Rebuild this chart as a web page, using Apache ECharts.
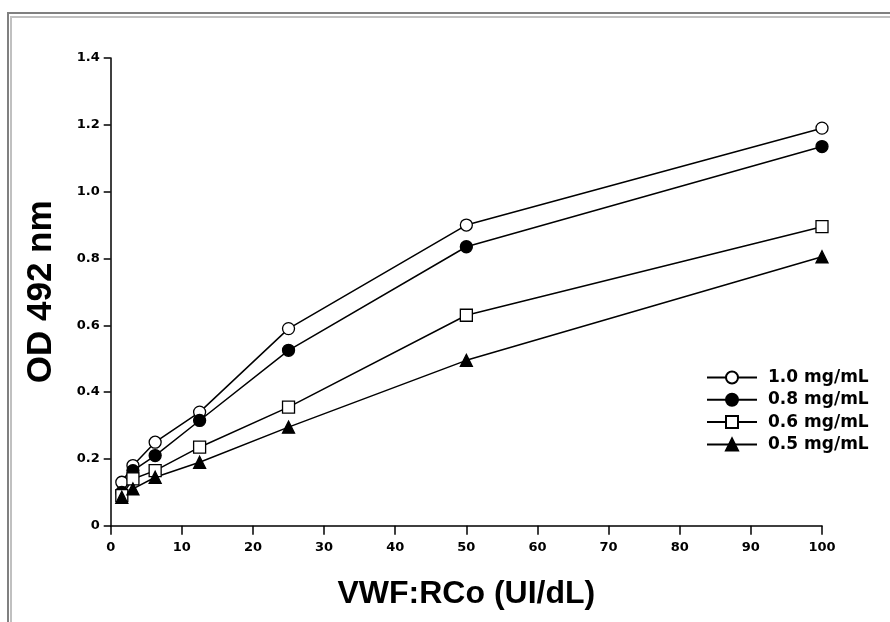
<!DOCTYPE html>
<html>
<head>
<meta charset="utf-8">
<script src="https://cdn.jsdelivr.net/npm/echarts@6/dist/echarts.min.js"></script>
<style>
  html, body { margin: 0; padding: 0; background: #fff; }
  #chart { width: 890px; height: 622px; }
</style>
</head>
<body>
<div id="chart"></div>
<script>
// data
var doses = [1.5625, 3.125, 6.25, 12.5, 25, 50, 100];
var names = ['1.0 mg/mL', '0.8 mg/mL', '0.6 mg/mL', '0.5 mg/mL'];
var od10 = [0.13, 0.18, 0.25, 0.34, 0.59, 0.90, 1.19];
var od08 = [0.10, 0.165, 0.21, 0.315, 0.525, 0.835, 1.135];
var od06 = [0.09, 0.14, 0.165, 0.235, 0.355, 0.63, 0.895];
var od05 = [0.085, 0.11, 0.145, 0.19, 0.295, 0.495, 0.805];
var yTicks = ['0', '0.2', '0.4', '0.6', '0.8', '1.0', '1.2', '1.4'];

function pairs(ys) {
    return doses.map(function (x, i) { return [x, ys[i]]; });
}

var tickFont = { color: '#000', fontFamily: 'DejaVu Sans', fontWeight: 'bold', fontSize: 13 };

function makeSeries(name, ys, symbol, fill, size) {
    return {
        name: name,
        type: 'line',
        data: pairs(ys),
        symbol: symbol,
        symbolSize: size,
        showAllSymbol: true,
        lineStyle: { color: '#000', width: 1.5 },
        itemStyle: { color: fill, borderColor: '#000', borderWidth: 1.3 },
        emphasis: { disabled: true },
        animation: false
    };
}

var myChart = echarts.init(document.getElementById('chart'));
var option = {
    backgroundColor: '#fff',
    animation: false,
    grid: { left: 110.7, right: 68, top: 58, bottom: 96.3, containLabel: false },
    xAxis: {
        type: 'value',
        min: 0, max: 100, interval: 10,
        name: 'VWF:RCo (UI/dL)',
        nameLocation: 'middle',
        nameGap: 52,
        nameTextStyle: { color: '#000', fontFamily: 'Liberation Sans', fontWeight: 'bold', fontSize: 32 },
        axisLine: { lineStyle: { color: '#000', width: 1.5 } },
        axisTick: { length: 9, lineStyle: { color: '#000', width: 1.5 } },
        axisLabel: Object.assign({ margin: 15 }, tickFont),
        splitLine: { show: false }
    },
    yAxis: {
        type: 'value',
        min: 0, max: 1.4, interval: 0.2,
        name: 'OD 492 nm',
        nameLocation: 'middle',
        nameGap: 52,
        nameTextStyle: { color: '#000', fontFamily: 'Liberation Sans', fontWeight: 'bold', fontSize: 35 },
        axisLine: { show: true, lineStyle: { color: '#000', width: 1.5 } },
        axisTick: { show: true, length: 7, lineStyle: { color: '#000', width: 1.5 } },
        axisLabel: Object.assign({
            margin: 11,
            formatter: function (v) { return yTicks[Math.round(v / 0.2)]; }
        }, tickFont),
        splitLine: { show: false }
    },
    legend: {
        orient: 'vertical',
        left: 701,
        top: 364,
        itemWidth: 50,
        itemHeight: 15,
        itemGap: 5.3,
        align: 'left',
        data: names,
        textStyle: { color: '#000', fontFamily: 'DejaVu Sans', fontWeight: 'bold', fontSize: 17, lineHeight: 17, padding: [0, 0, 0, 6] }
    },
    graphic: [
        { type: 'line', shape: { x1: 8, y1: 13, x2: 890, y2: 13 }, style: { stroke: '#808080', lineWidth: 2 } },
        { type: 'line', shape: { x1: 11, y1: 17, x2: 890, y2: 17 }, style: { stroke: '#c0c0c0', lineWidth: 2 } },
        { type: 'line', shape: { x1: 8, y1: 12, x2: 8, y2: 622 }, style: { stroke: '#808080', lineWidth: 2 } },
        { type: 'line', shape: { x1: 11, y1: 16, x2: 11, y2: 622 }, style: { stroke: '#c0c0c0', lineWidth: 2 } }
    ],
    series: [
        makeSeries(names[0], od10, 'circle', '#fff', 12),
        makeSeries(names[1], od08, 'circle', '#000', 12),
        makeSeries(names[2], od06, 'rect', '#fff', 12),
        makeSeries(names[3], od05, 'triangle', '#000', 12)
    ]
};
myChart.setOption(option);
</script>
</body>
</html>
